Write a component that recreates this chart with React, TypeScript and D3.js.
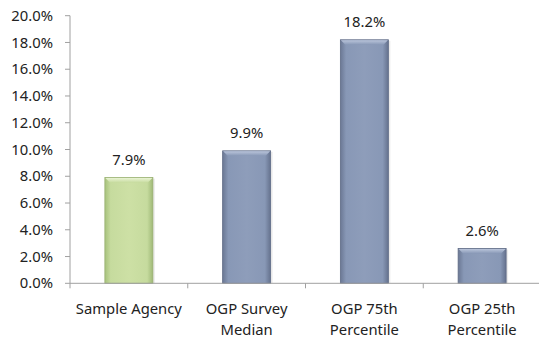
import React from "react";
import * as d3 from "d3";

const categories: string[][] = [
  ["Sample Agency"],
  ["OGP Survey", "Median"],
  ["OGP 75th", "Percentile"],
  ["OGP 25th", "Percentile"],
];
const values: number[] = [7.9, 9.9, 18.2, 2.6];
const yTicks: number[] = [0, 2, 4, 6, 8, 10, 12, 14, 16, 18, 20];
const barKinds: string[] = ["green", "blue", "blue", "blue"];

const W = 539;
const H = 339;
const left = 70;
const right = 541;
const top = 15.7;
const bottom = 283.3;

export default function App() {
  const x = d3
    .scaleBand<number>()
    .domain(values.map((_, i) => i))
    .range([left, right])
    .paddingInner(0)
    .paddingOuter(0);
  const y = d3.scaleLinear().domain([0, 20]).range([bottom, top]);
  const bw = 48;
  const font = "'Noto Sans', sans-serif";
  const fs = 14.8;

  return (
    <svg
      width={W}
      height={H}
      style={{ position: "absolute", left: 0, top: 0, background: "#fff" }}
    >
      <defs>
        <linearGradient id="g-green" x1="0" x2="1" y1="0" y2="0">
          <stop offset="0" stopColor="#a7c27c" />
          <stop offset="0.12" stopColor="#c6db9e" />
          <stop offset="0.5" stopColor="#cde0a5" />
          <stop offset="0.88" stopColor="#c6db9e" />
          <stop offset="1" stopColor="#9fb977" />
        </linearGradient>
        <linearGradient id="g-blue" x1="0" x2="1" y1="0" y2="0">
          <stop offset="0" stopColor="#6b7894" />
          <stop offset="0.12" stopColor="#8898b6" />
          <stop offset="0.5" stopColor="#8e9dba" />
          <stop offset="0.88" stopColor="#8898b6" />
          <stop offset="1" stopColor="#65728e" />
        </linearGradient>
        <linearGradient id="t-green" x1="0" x2="0" y1="0" y2="1">
          <stop offset="0" stopColor="#e9f3d3" />
          <stop offset="1" stopColor="#c6db9e" />
        </linearGradient>
        <linearGradient id="t-blue" x1="0" x2="0" y1="0" y2="1">
          <stop offset="0" stopColor="#b9c4da" />
          <stop offset="1" stopColor="#8898b6" />
        </linearGradient>
      </defs>

      {/* y axis */}
      <line x1={left} x2={left} y1={top} y2={bottom} stroke="#a0a0a0" strokeWidth={1} />
      {yTicks.map((t) => (
        <g key={t}>
          <line x1={left - 5} x2={left} y1={y(t)} y2={y(t)} stroke="#a0a0a0" />
          <text
            x={left - 17}
            y={y(t)}
            dy="0.35em"
            textAnchor="end"
            fontFamily={font}
            fontSize={fs}
            fill="#222"
          >
            {t.toFixed(1) + "%"}
          </text>
        </g>
      ))}

      {/* bars */}
      {values.map((v, i) => {
        const cx = (x(i) as number) + x.bandwidth() / 2;
        const x0 = cx - bw / 2;
        const y0 = y(v);
        const h = bottom - y0;
        const kind = barKinds[i];
        const edge = kind === "green" ? "#98b070" : "#5f6b86";
        return (
          <g key={i}>
            <rect x={x0 + 2} y={y0 + 1} width={bw} height={h - 1} fill="#000" opacity={0.08} />
            <rect x={x0} y={y0} width={bw} height={h} fill={`url(#g-${kind})`} stroke={edge} strokeWidth={0.8} />
            <path
              d={`M${x0 + 0.5},${y0 + 0.5} L${x0 + bw - 0.5},${y0 + 0.5} L${x0 + bw - 5},${y0 + 5} L${x0 + 5},${y0 + 5} Z`}
              fill={`url(#t-${kind})`}
            />
            <text
              x={cx}
              y={y0 - 13}
              textAnchor="middle"
              fontFamily={font}
              fontSize={fs}
              fill="#222"
            >
              {v.toFixed(1) + "%"}
            </text>
          </g>
        );
      })}

      {/* x axis */}
      <line x1={left} x2={right} y1={bottom} y2={bottom} stroke="#a0a0a0" />
      {values.map((_, i) => (
        <line
          key={i}
          x1={x(i) as number}
          x2={x(i) as number}
          y1={bottom}
          y2={bottom + 5}
          stroke="#a0a0a0"
        />
      ))}
      {categories.map((lines, i) => {
        const cx = (x(i) as number) + x.bandwidth() / 2;
        return (
          <text
            key={i}
            textAnchor="middle"
            fontFamily={font}
            fontSize={fs}
            fill="#222"
          >
            {lines.map((l, j) => (
              <tspan key={j} x={cx} y={314 + j * 21}>
                {l}
              </tspan>
            ))}
          </text>
        );
      })}
    </svg>
  );
}
